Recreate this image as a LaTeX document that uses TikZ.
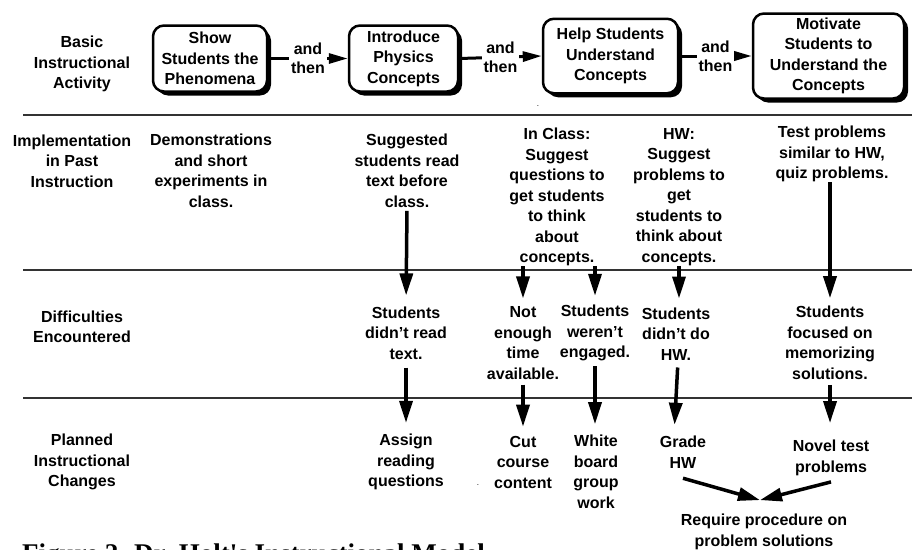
\documentclass[tikz,border=0pt]{standalone}
\usepackage{fontspec}
\setmainfont{Liberation Sans}
\newfontfamily\capfont{Liberation Serif}
\usetikzlibrary{arrows.meta,shadows}
\begin{document}
\begin{tikzpicture}[x=1pt,y=-1pt,
  txt/.style={align=center, inner sep=0pt, font=\bfseries\fontsize{16}{20.5}\selectfont},
  actbox/.style={txt, draw, line width=2.5pt, rounded corners=11pt, fill=white,
    drop shadow={shadow xshift=4pt, shadow yshift=-4pt, fill=black, opacity=1}},
  joinlabel/.style={txt, fill=white, inner sep=2pt, font=\bfseries\fontsize{16}{19}\selectfont},
  harrow/.style={line width=3pt, -{Triangle[length=19pt,width=10pt]}},
  varrow/.style={line width=3.5pt, -{Triangle[length=22pt,width=13pt]}},
  divider/.style={line width=1.8pt, black!80},
  speck/.style={inner sep=0pt, font=\fontsize{8}{8}\selectfont},
  caption/.style={anchor=base west, inner sep=0pt, font=\capfont\bfseries\fontsize{27}{30}\selectfont}]
\useasboundingbox (0,0) rectangle (912,549);
\clip (0,0) rectangle (912,549);

% dividers
\draw[divider] (23,115) -- (912,115);
\draw[divider] (23,270) -- (912,270);
\draw[divider] (23,398) -- (912,398);

% row labels
\node[txt] (lab1) at (82,64) {Basic\\Instructional\\Activity};
\node[txt] (lab2) at (72,161) {Implementation\\in Past\\Instruction};
\node[txt] (lab3) at (82,327) {Difficulties\\Encountered};
\node[txt] (lab4) at (82,462) {Planned\\Instructional\\Changes};

% activity boxes
\node[actbox, minimum width=114pt, minimum height=66pt] (b1) at (210,58.5) {Show\\Students the\\Phenomena};
\node[actbox, minimum width=109pt, minimum height=66pt] (b2) at (403.5,58.5) {Introduce\\Physics\\Concepts};
\node[actbox, minimum width=135pt, minimum height=74.5pt] (b3) at (610.5,56) {Help Students\\Understand\\Concepts};
\node[actbox, minimum width=151pt, minimum height=85pt] (b4) at (828.5,56) {Motivate\\Students to\\Understand the\\Concepts};

\draw[harrow] (b1.east) -- node[joinlabel] {and\\then} (b2.west);
\draw[harrow] (b2.east) -- node[joinlabel] {and\\then} (b3.west);
\draw[harrow] (b3.east) -- node[joinlabel] {and\\then} (b4.west);

% implementation row
\node[txt] (demo) at (211,171) {Demonstrations\\and short\\experiments in\\class.};
\node[txt] (sugg) at (407,171) {Suggested\\students read\\text before\\class.};
\node[txt] (inclass) at (557,197) {In Class:\\Suggest\\questions to\\get students\\to think\\about\\concepts.};
\node[txt] (hw) at (679,197) {HW:\\Suggest\\problems to\\get\\students to\\think about\\concepts.};
\node[txt] (test) at (832,154) {Test problems\\similar to HW,\\quiz problems.};

% difficulties row
\node[txt] (didnt) at (406,333) {Students\\didn't read\\text.};
\node[txt] (notenough) at (523,343) {Not\\enough\\time\\available.};
\node[txt] (werent) at (595,333) {Students\\weren't\\engaged.};
\node[txt] (didntdo) at (676,334) {Students\\didn't do\\HW.};
\node[txt] (focused) at (830,343) {Students\\focused on\\memorizing\\solutions.};

% planned changes row
\node[txt] (assign) at (406,462) {Assign\\reading\\questions};
\node[txt] (cut) at (523,462) {Cut\\course\\content};
\node[txt] (white) at (596,472) {White\\board\\group\\work};
\node[txt] (grade) at (683,452) {Grade\\HW};
\node[txt] (novel) at (831,458) {Novel test\\problems};
\node[txt] (require) at (764,532) {Require procedure on\\problem solutions};

% stray specks
\node[speck] (speck1) at (538,106) {.};
\node[speck] (speck2) at (478,485) {.};

% vertical arrows
\draw[varrow, shorten <=3pt, shorten >=11pt] (sugg.south) -- (didnt.north);
\draw[varrow, shorten <=8pt, shorten >=11pt] (didnt.south) -- (assign.north);
\draw[varrow, shorten >=8pt] (inclass.south -| notenough.north) -- (notenough.north);
\draw[varrow, shorten >=9pt] (inclass.south -| werent.north) -- (werent.north);
\draw[varrow, shorten >=9pt] (hw.south) -- (hw.south |- didntdo.north);
\draw[varrow, shorten >=8pt] (test.south -| focused.north) -- (focused.north);
\draw[varrow, shorten <=5pt, shorten >=9pt] (notenough.south) -- (notenough.south |- cut.north);
\draw[varrow, shorten <=5pt, shorten >=11pt] (werent.south) -- (werent.south |- white.north);
\draw[varrow, shorten <=7pt, shorten >=11pt] ([xshift=2pt]didntdo.south) -- ([xshift=-9pt]grade.north);
\draw[varrow, shorten <=5pt, shorten >=17pt] (focused.south) -- (focused.south |- novel.north);
\draw[varrow] ([yshift=-10pt]grade.south) -- ([xshift=-4pt,yshift=14pt]require.north);
\draw[varrow] ([yshift=-6pt]novel.south) -- ([xshift=-4pt,yshift=14pt]require.north);

% caption (cut off at the bottom edge, as in the reference)
\node[caption] (cap) at (22,562) {Figure 2. Dr. Holt's Instructional Model};
\end{tikzpicture}
\end{document}
